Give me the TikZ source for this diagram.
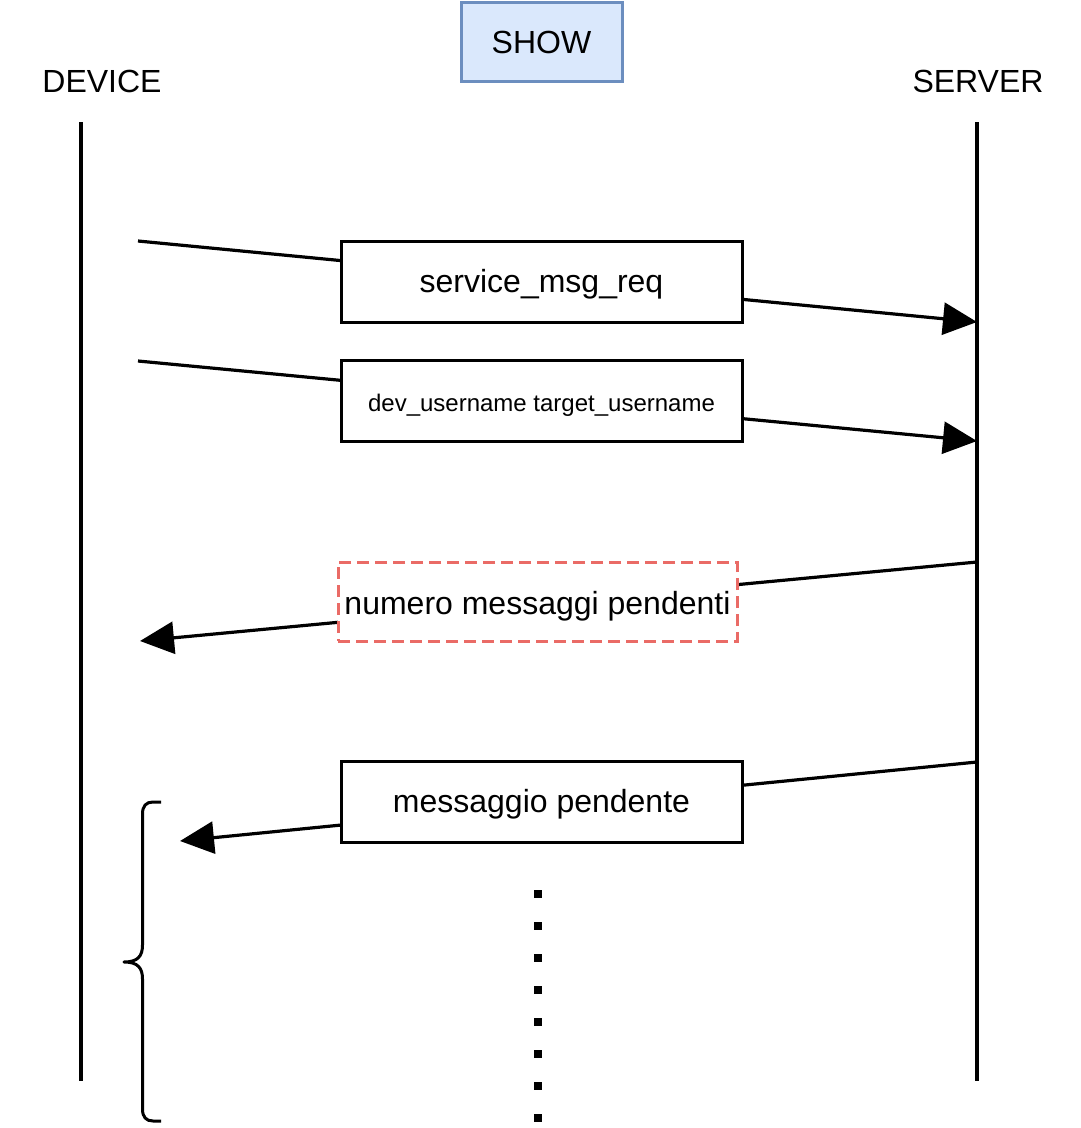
\documentclass[tikz,border=0pt]{standalone}
\usepackage{fontspec}
\setmainfont{Liberation Sans}
\usetikzlibrary{arrows.meta}
\definecolor{showfill}{HTML}{DAE8FC}
\definecolor{showdraw}{HTML}{6C8EBF}
\definecolor{dashred}{HTML}{EA6B66}
\newcommand{\lowr}[2]{\raisebox{-#1}[\height][\depth]{#2}}
\begin{document}
\begin{tikzpicture}[x=1pt,y=-1pt, line width=3pt,
  big/.style={font=\fontsize{32}{38}\selectfont},
  msgbox/.style={draw=black, fill=white, minimum width=401pt, minimum height=81pt, inner sep=0pt, big},
  lbl/.style={inner sep=0pt, big},
  msg/.style={line width=3.2pt, -{Triangle[length=34pt,width=32pt]}},
  lifeline/.style={line width=3.6pt}
]
\useasboundingbox (0,0) rectangle (1080,1128);

% header
\node[draw=showdraw, fill=showfill, line width=3pt, minimum width=161pt, minimum height=79pt, inner sep=0pt, big] (show) at (541.5,41.5) {\lowr{1pt}{SHOW}};
\node[lbl] (device) at (102,81) {DEVICE};
\node[lbl] (server) at (978,81) {SERVER};

% lifelines
\coordinate (dtop) at (81,122);
\coordinate (dbot) at (81,1081);
\coordinate (stop) at (977,122);
\coordinate (sbot) at (977,1081);
\draw[lifeline] (dtop) -- (dbot);
\draw[lifeline] (stop) -- (sbot);

% message 1
\coordinate (m1a) at (138,241);
\coordinate (m1b) at (977,322);
\draw[msg] (m1a) -- (m1b);
\node[msgbox] (b1) at (541.5,281.5) {\lowr{3pt}{service\_msg\_req}};

% message 2
\coordinate (m2a) at (138,361);
\coordinate (m2b) at (977,441);
\draw[msg] (m2a) -- (m2b);
\node[msgbox, font=\fontsize{24}{28}\selectfont] (b2) at (541.5,401) {\lowr{4pt}{dev\_username target\_username}};

% message 3
\coordinate (m3a) at (977,562);
\coordinate (m3b) at (140,641);
\draw[msg] (m3a) -- (m3b);
\node[msgbox, draw=dashred, dash pattern=on 12pt off 6pt, minimum width=399pt, minimum height=79pt] (b3) at (537.5,601.5) {\lowr{5pt}{numero messaggi pendenti}};

% message 4
\coordinate (m4a) at (977,762);
\coordinate (m4b) at (180,841);
\draw[msg] (m4a) -- (m4b);
\node[msgbox] (b4) at (541.5,801.5) {\lowr{3pt}{messaggio pendente}};

% dots
\foreach \i in {0,...,7}
  \fill (534,890+32*\i) rectangle ++(7.5,7.5);

% brace
\draw[line width=3pt, line join=round]
  (161,802) -- (153,802) .. controls (146,802) and (142.5,806) .. (142.5,814)
  -- (142.5,945) .. controls (142.5,956) and (138,962) .. (124,962)
  .. controls (138,962) and (142.5,968) .. (142.5,979)
  -- (142.5,1109) .. controls (142.5,1117) and (146,1121) .. (153,1121) -- (161,1121);
\end{tikzpicture}
\end{document}
